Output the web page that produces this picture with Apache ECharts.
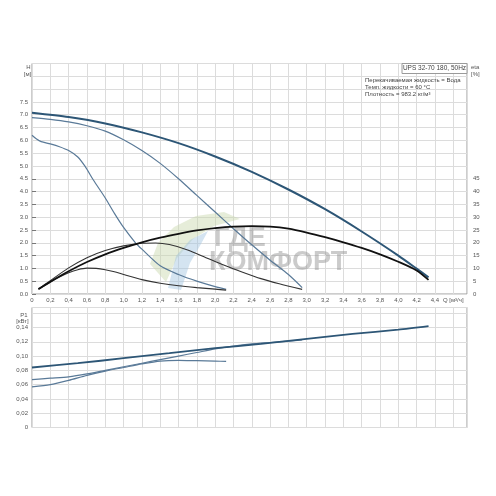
<!DOCTYPE html>
<html>
<head>
<meta charset="utf-8">
<script src="https://cdn.jsdelivr.net/npm/echarts@6/dist/echarts.min.js"></script>
<style>
  html, body { margin: 0; padding: 0; background: #fff; }
  #chart { width: 496px; height: 496px; }
</style>
</head>
<body>
<div id="chart"></div>
<script>
// Q [m3/h] and head H [m] per speed
const qH3 = [0, 0.4, 0.8, 1.2, 1.6, 2.0, 2.4, 2.8, 3.2, 3.6, 4.0, 4.2, 4.33];
const h3 = [7.08, 6.91, 6.66, 6.31, 5.89, 5.37, 4.77, 4.08, 3.31, 2.44, 1.50, 0.99, 0.65];
const qH2 = [0, 0.2, 0.4, 0.6, 0.8, 1.0, 1.2, 1.4, 1.6, 1.8, 2.0, 2.2, 2.4, 2.6, 2.8, 2.95];
const h2 = [6.89, 6.82, 6.72, 6.57, 6.36, 6.02, 5.60, 5.10, 4.50, 3.85, 3.20, 2.55, 1.92, 1.32, 0.76, 0.25];
const qH1 = [0, 0.05, 0.1, 0.2, 0.3, 0.4, 0.5, 0.58, 0.67, 0.8, 0.9, 1.0, 1.13, 1.2, 1.4, 1.6, 1.8, 2.0, 2.12];
const h1 = [6.20, 6.05, 5.95, 5.86, 5.75, 5.60, 5.35, 4.98, 4.45, 3.75, 3.15, 2.60, 2.00, 1.75, 1.10, 0.76, 0.50, 0.29, 0.18];

// efficiency eta [%]
const qE3 = [0.07, 0.2, 0.4, 0.6, 0.8, 1.0, 1.2, 1.4, 1.6, 1.8, 2.0, 2.2, 2.4, 2.6, 2.8, 3.0, 3.2, 3.4, 3.6, 3.8, 4.0, 4.2, 4.33];
const eta3 = [1.9, 4.8, 8.9, 12.5, 15.5, 18.0, 20.2, 22.0, 23.5, 24.8, 25.7, 26.3, 26.5, 26.3, 25.5, 24.0, 22.2, 20.2, 18.0, 15.5, 12.6, 9.2, 5.5];
const qE2 = [0.07, 0.2, 0.4, 0.6, 0.8, 1.0, 1.2, 1.35, 1.5, 1.7, 1.9, 2.1, 2.3, 2.5, 2.7, 2.95];
const eta2 = [1.9, 5.2, 10.2, 14.2, 17.0, 18.8, 19.8, 19.9, 19.3, 17.2, 14.2, 11.2, 8.5, 6.0, 4.0, 1.8];
const qE1 = [0.08, 0.2, 0.3, 0.4, 0.5, 0.6, 0.7, 0.8, 0.9, 1.0, 1.2, 1.4, 1.6, 1.8, 2.0, 2.12];
const eta1 = [2.0, 4.6, 6.6, 8.3, 9.5, 10.1, 10.0, 9.5, 8.7, 7.6, 5.6, 4.2, 3.2, 2.5, 1.9, 1.5];

// power P1 [kW]
const qP3 = [0, 0.5, 1.0, 1.5, 2.0, 2.5, 3.0, 3.5, 4.0, 4.33];
const p3 = [0.084, 0.090, 0.097, 0.104, 0.111, 0.117, 0.124, 0.131, 0.137, 0.142];
const qP2 = [0, 0.2, 0.4, 0.6, 0.8, 1.0, 1.2, 1.4, 1.6, 1.8, 2.0, 2.2, 2.4, 2.6, 2.8, 2.95];
const p2 = [0.067, 0.069, 0.071, 0.075, 0.080, 0.085, 0.090, 0.095, 0.100, 0.105, 0.110, 0.114, 0.117, 0.119, 0.121, 0.1225];
const qP1 = [0, 0.2, 0.4, 0.6, 0.8, 1.0, 1.2, 1.4, 1.6, 1.8, 2.0, 2.12];
const p1 = [0.057, 0.060, 0.066, 0.073, 0.079, 0.084, 0.089, 0.093, 0.094, 0.0935, 0.093, 0.0925];

const infoLines = ['Перекачиваемая жидкость = Вода', 'Темп. жидкости = 60 °C', 'Плотность = 983.2 кг/м³'];
const pumpName = 'UPS 32-70 180, 50Hz';

const pairs = (xs, ys) => xs.map((x, i) => [x, ys[i]]);
const FONT = 'Liberation Sans, Arial, sans-serif';
const labelColor = '#555';
const gridLine = { show: true, lineStyle: { color: '#dcdcdc', width: 1 } };

function line(name, xs, ys, xi, yi, color, width) {
    return {
        name: name, type: 'line', xAxisIndex: xi, yAxisIndex: yi,
        data: pairs(xs, ys), showSymbol: false, symbol: 'none',
        smooth: 0.25,
        lineStyle: { color: color, width: width }, z: 3
    };
}

const xFmt = v => {
    if (Math.abs(v - 4.6) < 1e-6) return 'Q [м³/ч]';
    if (v > 4.5) return '';
    return v === 0 ? '0' : v.toFixed(1).replace('.', ',');
};

const chart = echarts.init(document.getElementById('chart'));
const option = {
    animation: false,
    textStyle: { fontFamily: FONT },
    grid: [
        { left: 32, top: 63.5, width: 435, height: 230.5, show: true, borderColor: '#9a9a9a', borderWidth: 1 },
        { left: 32, top: 307.5, width: 435, height: 120, show: true, borderColor: '#9a9a9a', borderWidth: 1 },
        { left: 32, top: 178.75, width: 435, height: 115.25, show: false }
    ],
    xAxis: [
        { gridIndex: 0, type: 'value', min: 0, max: 4.75, interval: 0.2,
          axisLine: { show: false }, axisTick: { show: false }, splitLine: gridLine,
          axisLabel: { fontSize: 6, color: labelColor, margin: 3, formatter: xFmt, hideOverlap: false } },
        { gridIndex: 1, type: 'value', min: 0, max: 4.75, interval: 0.2,
          axisLine: { show: false }, axisTick: { show: false }, splitLine: gridLine,
          axisLabel: { show: false } },
        { gridIndex: 2, type: 'value', min: 0, max: 1, show: false }
    ],
    yAxis: [
        { gridIndex: 0, type: 'value', min: 0, max: 9, interval: 0.5,
          axisLine: { show: false }, axisTick: { show: false }, splitLine: gridLine,
          axisLabel: { fontSize: 6, color: labelColor, margin: 4,
                       formatter: v => v <= 7.5 ? v.toFixed(1) : '' } },
        { gridIndex: 0, type: 'value', min: 0, max: 90, show: false },
        { gridIndex: 1, type: 'value', min: 0, max: 0.168, interval: 0.02,
          axisLine: { show: false }, axisTick: { show: false }, splitLine: gridLine,
          axisLabel: { fontSize: 6, color: labelColor, margin: 4,
                       formatter: v => v > 0.141 ? '' : (v === 0 ? '0' : v.toFixed(2).replace('.', ',')) } },
        { gridIndex: 2, type: 'value', position: 'right', min: 0, max: 45, interval: 5,
          axisLine: { show: false }, splitLine: { show: false },
          axisTick: { show: true, length: 4, lineStyle: { color: '#777' } },
          axisLabel: { fontSize: 6, color: labelColor, margin: 6 } }
    ],
    graphic: [
        // watermark
        { type: 'polygon', z: 1, silent: true,
          shape: { points: [[150, 264], [158, 243], [174, 227], [196, 216], [224, 212], [240, 219], [214, 226], [193, 239], [177, 258], [166, 282]] },
          style: { fill: 'rgba(200,215,170,0.45)' } },
        { type: 'polygon', z: 1, silent: true,
          shape: { points: [[168, 288], [176, 256], [190, 240], [208, 231], [201, 244], [190, 263], [181, 290]] },
          style: { fill: 'rgba(160,195,225,0.45)' } },
        { type: 'text', z: 1, silent: true, x: 214, y: 239,
          style: { text: 'ГДЕ', fontSize: 27, fontWeight: 'bold', fill: 'rgba(140,140,140,0.45)', fontFamily: FONT, verticalAlign: 'middle' } },
        { type: 'text', z: 1, silent: true, x: 209, y: 263,
          style: { text: 'КОМФОРТ', fontSize: 27, fontWeight: 'bold', fill: 'rgba(140,140,140,0.45)', fontFamily: FONT, verticalAlign: 'middle' } },
        // axis titles
        { type: 'text', x: 28.5, y: 67, style: { text: 'H', fontSize: 6, fill: labelColor, fontFamily: FONT, align: 'center', verticalAlign: 'middle' } },
        { type: 'text', x: 27.5, y: 74.5, style: { text: '[м]', fontSize: 6, fill: labelColor, fontFamily: FONT, align: 'center', verticalAlign: 'middle' } },
        { type: 'text', x: 24, y: 315, style: { text: 'P1', fontSize: 6, fill: labelColor, fontFamily: FONT, align: 'center', verticalAlign: 'middle' } },
        { type: 'text', x: 22.5, y: 321.5, style: { text: '[кВт]', fontSize: 6, fill: labelColor, fontFamily: FONT, align: 'center', verticalAlign: 'middle' } },
        { type: 'text', x: 471, y: 67.7, style: { text: 'eta', fontSize: 6, fill: labelColor, fontFamily: FONT, verticalAlign: 'middle' } },
        { type: 'text', x: 471, y: 74.3, style: { text: '[%]', fontSize: 6, fill: labelColor, fontFamily: FONT, verticalAlign: 'middle' } },
        // info box
        { type: 'rect', z: 5, shape: { x: 402, y: 63.5, width: 65, height: 10 },
          style: { fill: '#fff', stroke: '#9a9a9a', lineWidth: 1 } },
        { type: 'text', z: 6, x: 434.5, y: 68.7,
          style: { text: pumpName, fontSize: 6.5, fill: '#444', fontFamily: FONT, align: 'center', verticalAlign: 'middle' } },
        { type: 'text', z: 6, x: 365, y: 80, style: { text: infoLines[0], fontSize: 6, fill: '#444', fontFamily: FONT, verticalAlign: 'middle' } },
        { type: 'text', z: 6, x: 365, y: 87, style: { text: infoLines[1], fontSize: 6, fill: '#444', fontFamily: FONT, verticalAlign: 'middle' } },
        { type: 'text', z: 6, x: 365, y: 94, style: { text: infoLines[2], fontSize: 6, fill: '#444', fontFamily: FONT, verticalAlign: 'middle' } }
    ],
    series: [
        line('H1', qH1, h1, 0, 0, '#5a7a98', 1.2),
        line('H2', qH2, h2, 0, 0, '#5a7a98', 1.2),
        line('H3', qH3, h3, 0, 0, '#2d5676', 2),
        line('eta1', qE1, eta1, 0, 1, '#333', 1.1),
        line('eta2', qE2, eta2, 0, 1, '#333', 1.1),
        line('eta3', qE3, eta3, 0, 1, '#111', 1.8),
        line('P1-1', qP1, p1, 1, 2, '#5a7a98', 1.2),
        line('P1-2', qP2, p2, 1, 2, '#5a7a98', 1.2),
        line('P1-3', qP3, p3, 1, 2, '#2d5676', 1.8)
    ]
};
chart.setOption(option);
</script>
</body>
</html>
